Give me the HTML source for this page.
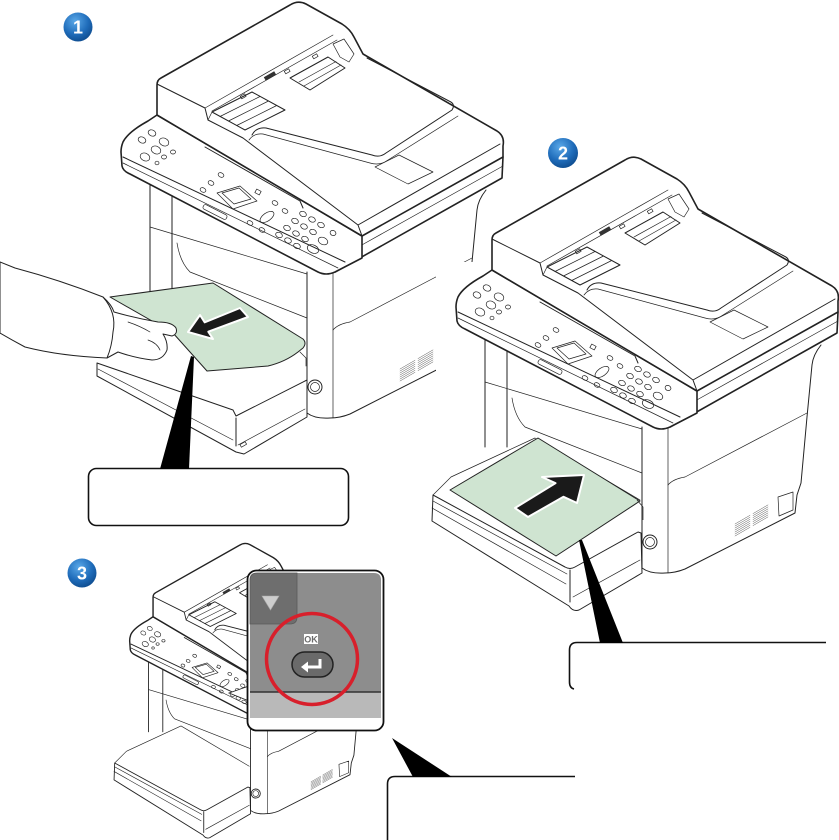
<!DOCTYPE html>
<html><head><meta charset="utf-8">
<style>
html,body{margin:0;padding:0;background:#fff;}
svg{display:block;}
.a{stroke-width:calc(1.6px*var(--k,1));}
.b{stroke-width:calc(1px*var(--k,1));}
.c{stroke-width:calc(0.7px*var(--k,1));}
.v{stroke-width:calc(0.45px*var(--k,1));stroke:#444;}
</style></head><body>
<svg width="839" height="840" viewBox="0 0 839 840" xmlns="http://www.w3.org/2000/svg">
<defs>
 <radialGradient id="bg" cx="0.4" cy="0.3" r="0.75">
  <stop offset="0" stop-color="#5aa8e8"/>
  <stop offset="0.6" stop-color="#1f6cba"/>
  <stop offset="1" stop-color="#0d4a8c"/>
 </radialGradient>
 <clipPath id="c1"><path d="M0,0 H839 V262 H436 V840 H0 Z"/></clipPath>

 <g id="body" fill="none" stroke="#222" stroke-linejoin="round" stroke-linecap="round">
  <!-- lower body -->
  <path class="b" d="M150,184 L150,292 M172,196 L172,292"/>
  <path class="c" d="M150,227 L307,274"/>
  <path class="c" d="M177,243 Q180,262 190,272 L307,318"/>
  <path class="b" d="M307,272 L307,413 Q315,419 330,418 Q340,418 350,414 L460,358 L462,340 L466,328 L472,262 L477,210 Q478,200 486,190"/>
  <path class="c" d="M333,273 L333,418"/>
  <path class="c" d="M333,330 Q338,324 350,322 L472,258"/>
  <path class="c" d="M443,342 L458,337 L458,355 L444,361 Z"/>
  <path class="v" d="M400,369 L415,360.3 M418,358.6 L433,349.9 M400,371 L415,362.3 M418,360.6 L433,351.9 M400,373 L415,364.3 M418,362.6 L433,353.9 M400,375 L415,366.3 M418,364.6 L433,355.9 M400,377 L415,368.3 M418,366.6 L433,357.9 M400,379 L415,370.3 M418,368.6 L433,359.9 M400,381 L415,372.3 M418,370.6 L433,361.9"/>
  <circle class="b" cx="315" cy="387" r="7"/>
  <circle class="c" cx="315" cy="387" r="4.5"/>
  <!-- scanner front -->
  <path class="a" d="M503,157 L502,178 L335,272"/>
  <path class="c" d="M360,246 L503,166"/>
  <!-- panel -->
  <path class="a" fill="#fff" d="M157,115 L148,121 Q128,132 123,142 Q121,147 121,152 L122,166 Q123,171 130,174 L318,272 Q326,276 335,272 L362,258 L362,236 Z"/>
  <path class="b" d="M123,157 L345,262"/>
  <path class="c" d="M123,163 L338,268"/>
  <path class="b" d="M205,147 L300,201 L303,208"/>
  <g class="c">
   <ellipse cx="142" cy="140" rx="4" ry="3" transform="rotate(25 142 140)"/>
   <ellipse cx="152" cy="133" rx="4" ry="3" transform="rotate(25 152 133)"/>
   <ellipse cx="164" cy="142" rx="5" ry="3.8" transform="rotate(25 164 142)"/>
   <ellipse cx="156" cy="150" rx="5" ry="3.8" transform="rotate(25 156 150)"/>
   <ellipse cx="145" cy="157" rx="5" ry="3.8" transform="rotate(25 145 157)"/>
   <ellipse cx="173" cy="152" rx="2.5" ry="2"/>
   <ellipse cx="164" cy="157" rx="2.5" ry="2"/>
   <ellipse cx="157" cy="163" rx="2" ry="1.8"/>
   <ellipse cx="203" cy="190" rx="3" ry="2.2" transform="rotate(25 203 190)"/>
   <ellipse cx="211" cy="183" rx="3" ry="2.2" transform="rotate(25 211 183)"/>
   <ellipse cx="221" cy="175" rx="3" ry="2.2" transform="rotate(25 221 175)"/>
   <polygon points="217,193 240,186 257,201 233,209"/>
   <polygon points="222,193 239,188 251,199 234,204"/>
   <rect x="255.5" y="190" width="5" height="4" transform="rotate(28 258 192)"/>
   <ellipse cx="275" cy="203" rx="3" ry="2.2" transform="rotate(25 275 203)"/>
   <ellipse cx="285" cy="211" rx="3" ry="2.2" transform="rotate(25 285 211)"/>
   <ellipse cx="250" cy="223" rx="3" ry="2.2" transform="rotate(25 250 223)"/>
   <ellipse cx="262" cy="230" rx="3" ry="2.2" transform="rotate(25 262 230)"/>
   <ellipse cx="267" cy="217" rx="8" ry="4" transform="rotate(-35 267 217)"/>
   <rect x="202" y="209.5" width="26" height="5" rx="2" transform="rotate(27 215 212)"/>
   <ellipse cx="303" cy="214" rx="3.5" ry="2.5" transform="rotate(25 303 214)"/>
   <ellipse cx="312" cy="219.5" rx="3.5" ry="2.5" transform="rotate(25 312 219.5)"/>
   <ellipse cx="321" cy="225" rx="3.5" ry="2.5" transform="rotate(25 321 225)"/>
   <ellipse cx="295" cy="221" rx="3.5" ry="2.5" transform="rotate(25 295 221)"/>
   <ellipse cx="304" cy="226.5" rx="3.5" ry="2.5" transform="rotate(25 304 226.5)"/>
   <ellipse cx="313" cy="232" rx="3.5" ry="2.5" transform="rotate(25 313 232)"/>
   <ellipse cx="287" cy="228" rx="3.5" ry="2.5" transform="rotate(25 287 228)"/>
   <ellipse cx="296" cy="233.5" rx="3.5" ry="2.5" transform="rotate(25 296 233.5)"/>
   <ellipse cx="305" cy="239" rx="3.5" ry="2.5" transform="rotate(25 305 239)"/>
   <ellipse cx="279" cy="235" rx="3.5" ry="2.5" transform="rotate(25 279 235)"/>
   <ellipse cx="288" cy="240.5" rx="3.5" ry="2.5" transform="rotate(25 288 240.5)"/>
   <ellipse cx="297" cy="246" rx="3.5" ry="2.5" transform="rotate(25 297 246)"/>
   <ellipse cx="313" cy="249" rx="6" ry="4" transform="rotate(25 313 249)"/>
   <ellipse cx="323" cy="241" rx="5" ry="3.5" transform="rotate(25 323 241)"/>
   <ellipse cx="333" cy="233" rx="3" ry="2.5" transform="rotate(25 333 233)"/>
  </g>
  <!-- ADF -->
  <path class="a" fill="#fff" d="M157,115 L157,85 Q157,80 161,78 L290,5 Q298,0 306,4 L342,24 Q350,29 354,37 L363,54 L497,131 Q505,136 503,146 L503,157 L362,236 Z"/>
  <path class="b" d="M157,84 L205,108 L208,120 L243,138 L358,225 L362,236 M358,225 L500,144"/>
  <path class="c" d="M205,108 L333,35 M212,111 L337,40"/>
  <path class="b" d="M252,135 Q256,127 266,128 L372,155 Q380,158 386,153 L452,110 Q456,104 449,101 L367,58"/>
  <path class="c" d="M249,140 Q254,133 263,134 L370,163 Q380,166 388,160 L458,116"/>
  <path class="c" d="M375,167 L399,155 L433,172 L408,184 Z"/>
  <path class="b" fill="#fff" d="M212,112 L252,92 L285,110 L245,130 Z"/>
  <path class="c" d="M220,116.5 L260,96.5 M228.5,121 L268.5,101 M236.7,125.5 L276.7,105.5"/>
  <path class="c" d="M208,120 L212,112"/>
  <path class="b" fill="#fff" d="M290,78 L328,57 L345,68 L310,90 Z"/>
  <path class="c" d="M299,82 L336,61.5 M304,86 L341,65"/>
  <path class="c" fill="#fff" d="M333,44 L344,39 L354,54 L349,62 L340,57 Z"/>
  <rect x="264" y="74" width="12" height="4" transform="rotate(-30 270 76)" fill="#333" stroke="none"/>
  <rect class="c" x="241" y="95" width="5" height="3" transform="rotate(-30 243 97)"/>
  <rect class="c" x="285" y="70" width="5" height="3" transform="rotate(-30 287 72)"/>
  <rect class="c" x="313" y="55" width="5" height="3" transform="rotate(-30 315 57)"/>
 </g>

 <g id="trayx" fill="none" stroke="#222" stroke-linejoin="round" stroke-linecap="round">
  <path class="b" fill="#fff" d="M98,340 L230,412 Q235,415 240,412 L303,377 L306,378 L307,418 L244,455 Q238,457 234,451 L97,366 Z"/>
  <path class="c" d="M98,346 L232,419 M97,353 L231,429 M238,442 L305,405"/>
  <path class="b" d="M235,415 L235,447"/>
  <path class="c" d="M98,340 L116,322 L200,283 M200,283 L305,345"/>
 </g>
</defs>

<!-- Printer 1 -->
<g clip-path="url(#c1)">
 <use href="#body"/>
</g>
<g fill="none" stroke="#222" stroke-linejoin="round" stroke-linecap="round">
 <path class="b" fill="#fff" d="M97,363 L233,410 L236,416 L307,380 L307,417 L244,454 L236,452 L97,376 Z"/>
 <path class="b" d="M236,418 L236,446"/>
 <path class="c" d="M98,369 L233,440 M238,445 L305,409"/>
 <rect class="c" x="240" y="443" width="6" height="3" transform="rotate(-30 243 444)"/>
 <path class="c" d="M300,352 L306,358 L306,366"/>
 <path class="b" fill="#cfe4d1" d="M110,297 L213,283 L303,339 Q307,343 303,348 L298,352 Q285,362 268,366 L207,371 L173,333 Z"/>
 <!-- hand -->
 <path class="b" fill="#fff" d="M0,262 L15,268 Q60,280 103,297 Q112,305 114,312 Q135,318 158,322 Q172,322 176,328 Q178,334 172,336 L163,334 Q168,342 167,350 Q163,360 152,360 Q135,358 118,352 L107,358 Q60,356 25,347 Q12,340 0,333 Z"/>
 <path class="b" d="M103,297 Q117,313 113,332 Q112,346 107,358"/>
 <path class="c" d="M148,340 Q157,343 160,350 M128,322 Q140,326 150,332"/>
</g>
<polygon points="188,332 213,339 208.3,331.7 248,317 240,308 204.7,322.3 200,315" fill="#1a1a1a" stroke="#fff" stroke-width="2" stroke-linejoin="round"/>

<!-- Printer 2 -->
<g transform="translate(335,155)">
 <use href="#body"/>
 <use href="#trayx"/>
 <path class="b" fill="#cfe4d1" stroke="#222" stroke-linejoin="round" d="M115,335 L203,283 L305,346 L221,401 Z"/>
 <path class="c" fill="none" stroke="#222" d="M302,345 L308,352 L308,365"/>
</g>
<polygon points="584,475 577,503 563.5,496.8 528,517 515,508 555.5,483.2 542,477" fill="#1a1a1a" stroke="#fff" stroke-width="2" stroke-linejoin="round"/>

<!-- Printer 3 -->
<g transform="matrix(.65 0 0 .65 51 542)" style="--k:1.35">
 <use href="#body"/>
 <use href="#trayx"/>
</g>

<!-- Inset -->
<polygon points="229,693 249,686 249,701" fill="#fff" stroke="#222" stroke-width=".8"/>
<rect x="247.5" y="570.5" width="136" height="160" rx="9" fill="#fff" stroke="#111" stroke-width="1.8"/>
<path d="M250,580 Q250,573 257,573 L374,573 Q381,573 381,580 L381,718 L250,718 Z" fill="#8d8d8d"/>
<path d="M250,580 Q250,573 257,573 L297,573 L297,617 Q297,624 290,624 L250,624 Z" fill="#6e6e6e" stroke="#5a5a5a" stroke-width=".8"/>
<rect x="250" y="692" width="131" height="26" fill="#b9b9b9"/>
<line x1="250" y1="692" x2="381" y2="692" stroke="#333" stroke-width="1.5"/>
<polygon points="262,596 279,596 270.5,610" fill="#cdcdcd" stroke="#aaa" stroke-width=".6"/>
<rect x="304" y="634" width="14" height="10" fill="#fff"/>
<text x="311" y="642.5" font-family="Liberation Sans, sans-serif" font-weight="bold" font-size="9" fill="#6b6b6b" text-anchor="middle">OK</text>
<rect x="292" y="652" width="41" height="25" rx="12.5" fill="#6a6a6a" stroke="#222" stroke-width="1.5"/>
<path d="M320,659 L320,667 L306,667" fill="none" stroke="#fff" stroke-width="3"/>
<polygon points="301,667 308,661.5 308,672.5" fill="#fff"/>
<circle cx="312" cy="659" r="45.5" fill="none" stroke="#d81f2b" stroke-width="3.5"/>

<!-- Callouts -->
<rect x="88.5" y="468.5" width="260" height="57" rx="8" fill="#fff" stroke="#111" stroke-width="1.6"/>
<polygon points="191,356 194,357 189,469 160,469" fill="#000"/>
<path d="M826,642.5 L577,642.5 Q569.5,642.5 569.5,650 L569.5,682 Q569.5,688 574,689" fill="none" stroke="#111" stroke-width="1.6"/>
<polygon points="579,540 582,540 623,643 600,643" fill="#000"/>
<path d="M575,776.5 L395,776.5 Q387.5,776.5 387.5,784 L387.5,840" fill="none" stroke="#111" stroke-width="1.6"/>
<polygon points="392,738 452,777 413,777" fill="#000"/>

<!-- Badges -->
<circle cx="78" cy="27" r="14.5" fill="url(#bg)"/>
<text x="78" y="33.5" font-family="Liberation Sans, sans-serif" font-weight="bold" font-size="18" fill="#fff" text-anchor="middle">1</text>
<circle cx="563" cy="153" r="15" fill="url(#bg)"/>
<text x="563" y="159.5" font-family="Liberation Sans, sans-serif" font-weight="bold" font-size="18" fill="#fff" text-anchor="middle">2</text>
<circle cx="82" cy="573" r="14.5" fill="url(#bg)"/>
<text x="82" y="579.5" font-family="Liberation Sans, sans-serif" font-weight="bold" font-size="18" fill="#fff" text-anchor="middle">3</text>
</svg>
</body></html>
